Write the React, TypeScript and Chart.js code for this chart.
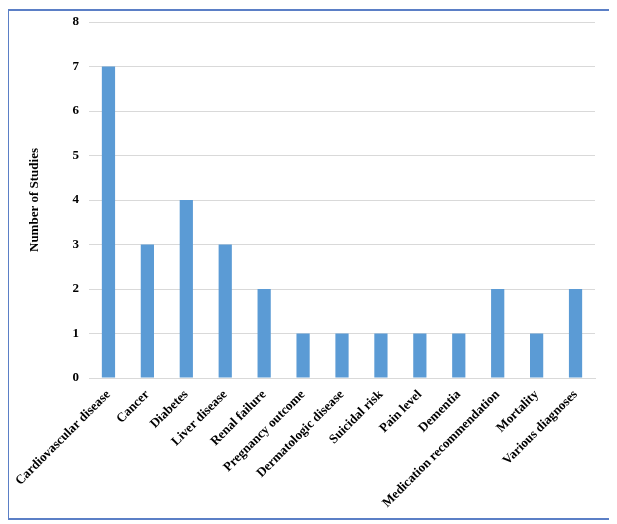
import React, { useEffect, useRef } from "react";
import { Chart, registerables } from "chart.js";

Chart.register(...registerables);

const categories = [
  "Cardiovascular disease",
  "Cancer",
  "Diabetes",
  "Liver disease",
  "Renal failure",
  "Pregnancy outcome",
  "Dermatologic disease",
  "Suicidal risk",
  "Pain level",
  "Dementia",
  "Medication recommendation",
  "Mortality",
  "Various diagnoses",
];
const studies = [7, 3, 4, 3, 2, 1, 1, 1, 1, 1, 2, 1, 2];
const yTicks = [0, 1, 2, 3, 4, 5, 6, 7, 8];

const FONT = "'Liberation Serif', 'Times New Roman', serif";

export default function App() {
  const ref = useRef<HTMLCanvasElement | null>(null);
  useEffect(() => {
    if (!ref.current) return;
    const chart = new Chart(ref.current, {
      type: "bar",
      data: {
        labels: categories,
        datasets: [
          {
            data: studies,
            backgroundColor: "#5B9BD5",
            borderWidth: 0,
            categoryPercentage: 1,
            barPercentage: 0.34,
          },
        ],
      },
      options: {
        responsive: false,
        animation: false,
        layout: { padding: { top: 11, right: 15, left: 0, bottom: 0 } },
        plugins: { legend: { display: false }, tooltip: { enabled: false } },
        scales: {
          x: {
            grid: { display: false, drawTicks: false },
            border: { display: true, color: "#D9D9D9", width: 1 },
            ticks: {
              autoSkip: false,
              maxRotation: 45,
              minRotation: 45,
              padding: 9,
              color: "#000",
              font: { family: FONT, size: 13, weight: "bold" },
            },
            afterFit: (s: any) => {
              s.height = 140;
              s.paddingLeft = 0;
              s.paddingRight = 0;
            },
          },
          y: {
            min: 0,
            max: 8,
            afterBuildTicks: (s: any) => {
              s.ticks = yTicks.map((v) => ({ value: v }));
            },
            grid: { color: "#D9D9D9", drawTicks: false },
            border: { display: false },
            ticks: {
              padding: 10,
              color: "#000",
              font: { family: FONT, size: 13, weight: "bold" },
            },
            title: {
              display: true,
              text: "Number of Studies",
              color: "#000",
              padding: { top: 18, bottom: 0 },
              font: { family: FONT, size: 13, weight: "bold" },
            },
            afterFit: (s: any) => {
              s.width = 80;
              s.paddingTop = 0;
              s.paddingBottom = 0;
            },
          },
        },
      },
    });
    return () => chart.destroy();
  }, []);
  return (
    <div
      style={{
        position: "relative",
        width: 601,
        height: 507,
        border: "2px solid #5B7FC6",
        marginLeft: -1,
        marginTop: 1,
        background: "#fff",
      }}
    >
      <canvas ref={ref} width={601} height={507} style={{ display: "block" }} />
    </div>
  );
}
